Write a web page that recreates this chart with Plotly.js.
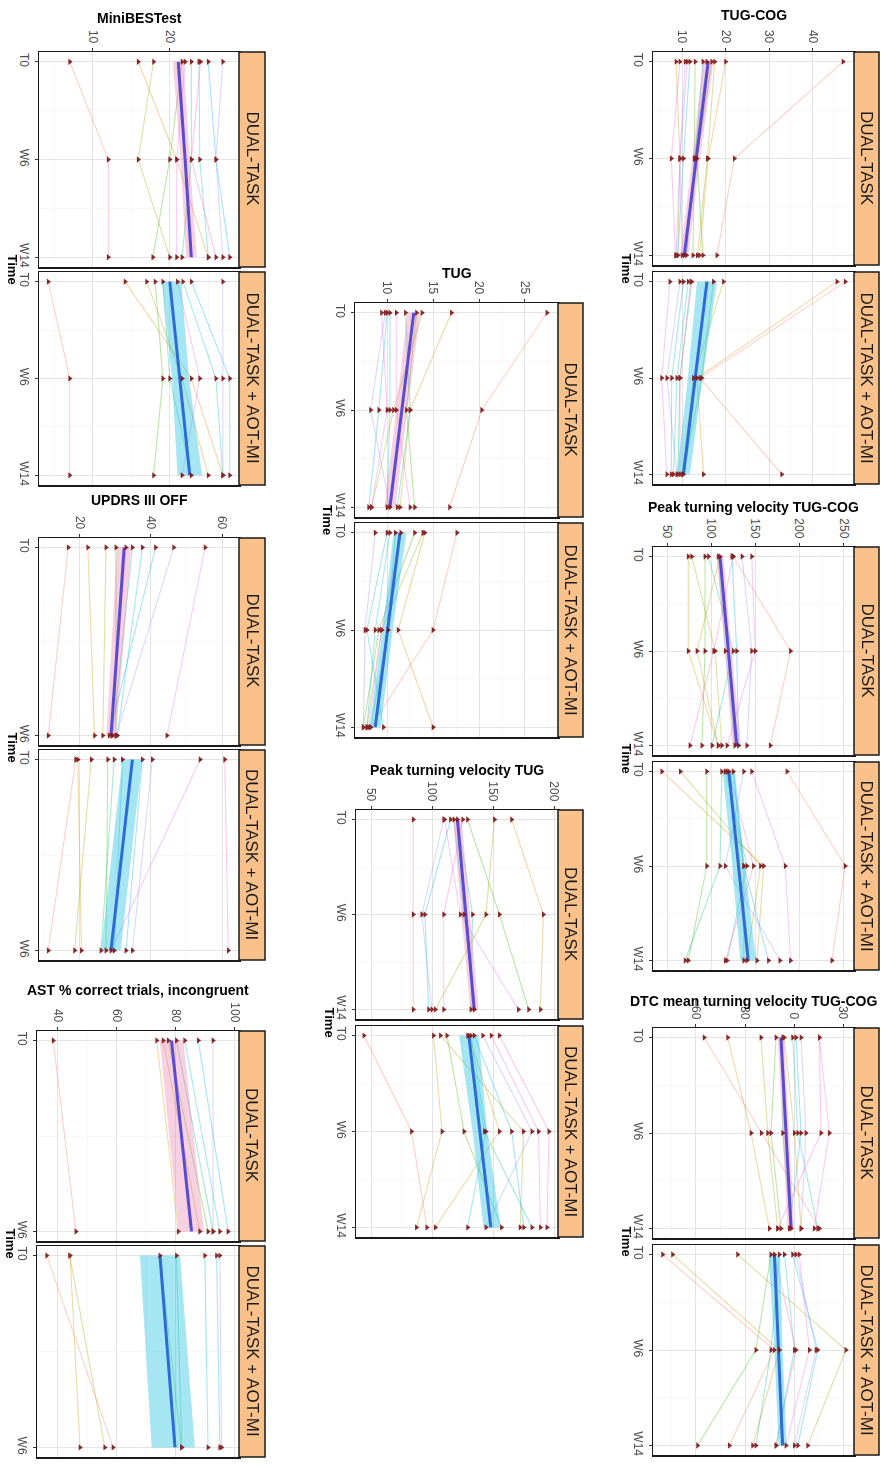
<!DOCTYPE html>
<html><head><meta charset="utf-8">
<script src="https://cdn.plot.ly/plotly-3.0.1.min.js"></script>
<style>html,body{margin:0;padding:0;background:#fff}#chart{width:893px;height:1467px}</style>
</head><body><div id="chart"></div>
<script>
// ---------------- DATA ----------------
const times3 = ['T0', 'W6', 'W14'];
const times2 = ['T0', 'W6'];

// TUG-COG
const tugcogDT = [[47,22,18],[20,16,14],[17.5,15.8,13.5],[16.8,13.4,14.8],[15.7,12.8,11],[14.8,13,10.5],[11.8,10.3,9],[11.2,9.5,8.6],[10.7,9.5,10],[9.5,7.5,8.5],[8.6,9.5,9],[13,12.8,12.5]];
const tugcogDTfit = [16, 13.2, 10.5];
const tugcogDTlo = [14.8, 12.3, 9.6];
const tugcogDThi = [17.2, 14.1, 11.4];
const tugcogAOT = [[47.5,14.1,32.9],[45.6,13.4,14.9],[19.5,12.6,10],[17.2,14.5,10.3],[12.2,9.5,9],[11.4,8.8,8],[10.3,7.6,7.5],[9.5,6.5,8.8],[7.2,5.3,6.5],[12,9.5,9.5]];
const tugcogAOTfit = [15.7, 13.0, 10.3];
const tugcogAOTlo = [13.4, 11.3, 8.8];
const tugcogAOThi = [18, 14.7, 11.8];

// Peak turning velocity TUG-COG
const peakcogDT = [[125,190,167],[74,74,108],[78,104.5,112],[93,93,89.5],[97,125,101],[108,116,127],[123.5,129,131],[135,146,140.5],[146,150,118],[125,103,76],[110,84,108]];
const peakcogDTfit = [110, 119.5, 129];
const peakcogDTlo = [106, 116, 124];
const peakcogDThi = [114, 123, 134];
const peakcogAOT = [[186,252,237],[44,159.5,152],[65,156,140.5],[95,95,74],[112,110,70.5],[116,140.5,118],[125,137,165],[137,116,178],[146,184,190],[120,148,116],[118,137,137]];
const peakcogAOTfit = [120, 131, 142];
const peakcogAOTlo = [113, 124, 133];
const peakcogAOThi = [127, 138, 151];

// DTC mean turning velocity TUG-COG
const dtcDT = [[-55,-20,15.5],[-40.6,-26.3,-15.1],[-20.2,-16.1,-10],[-11,-14.1,-8],[-6.9,-6.9,-1.8],[-0.8,2.3,14.5],[1.2,4.3,-2.9],[4.3,7.3,4.3],[15.5,21.6,12.4],[15.5,16.5,-10],[-6,0.2,4.3]];
const dtcDTfit = [-8, -4.9, -1.8];
const dtcDTlo = [-10, -7, -4];
const dtcDThi = [-6, -3, 0];
const dtcAOT = [[-80.4,-12.1,-39.6],[-74.3,-9,-25.3],[-34.5,31.8,8.4],[-14.1,-23.3,-59],[-9,-14.1,-23.3],[-5.9,0.2,-11],[-0.8,14.5,2.3],[1.2,13.5,0.2],[3.2,9.4,-4.9],[-12,1.2,-11]];
const dtcAOTfit = [-12, -9.5, -7];
const dtcAOTlo = [-15.5, -12, -9.5];
const dtcAOThi = [-8.5, -7, -4.5];

// TUG
const tugDT = [[27.4,20.3,16.8],[17,12.5,11.4],[13.8,10.7,8.3],[13.2,12.1,13],[12,12.5,11.1],[10.3,10.3,10],[10,9.1,8],[9.8,8.2,10.3],[9.4,10,8.3],[11,11,12.5]];
const tugDTfit = [12.9, 11.6, 10.3];
const tugDTlo = [12.2, 11.0, 9.7];
const tugDThi = [13.6, 12.2, 10.9];
const tugAOT = [[17.6,15,8.2],[14.1,11.2,15],[13.9,9.4,7.8],[13,9.1,7.4],[10.9,10.1,8.2],[10.3,8.7,7.8],[10,7.8,9.6],[8.7,7.6,7.4],[11.5,9.4,8]];
const tugAOTfit = [11.4, 10.05, 8.7];
const tugAOTlo = [10.7, 9.5, 8.1];
const tugAOThi = [12.1, 10.6, 9.3];

// Peak turning velocity TUG
const peaktugDT = [[84.4,84.4,84.4],[165,191,188.6],[151,144,102.5],[128.9,155,179],[120.6,133,131.7],[117.8,126,134.4],[115,94,97],[109.4,91.4,99.7],[110,123,170.6],[125,109.4,109.4]];
const peaktugDTfit = [120.6, 127.5, 134.4];
const peaktugDTlo = [117, 124, 131];
const peaktugDThi = [124, 131, 138];
const peaktugAOT = [[44,83,95.6],[101,108,87],[106.7,174.7,172],[112,126,156.7],[129,142.8,181.7],[131.7,144,129],[134.4,165,175],[141.4,181.7,144],[148.3,187,188.6],[155,195.6,194],[130,155,102.5]];
const peaktugAOTfit = [130, 139, 148];
const peaktugAOTlo = [122, 133, 142];
const peaktugAOThi = [138, 145, 156];

// MiniBESTest
const minibestDT = [[7,12,12],[15.9,20.9,25],[17.9,15.9,20],[21.6,20,17.8],[22.8,22.8,21.6],[23.8,23.9,25],[25,26,27.8],[26.9,26,26.9],[22,20.9,20.9],[24,22.8,26]];
const minibestDTfit = [21.1, 22, 22.8];
const minibestDTlo = [20.4, 21.4, 22.1];
const minibestDThi = [21.8, 22.6, 23.5];
const minibestAOT = [[4.2,7,7],[14.2,22.8,26.9],[17,21.6,25],[18.1,19.1,17.9],[19.1,20,22.8],[21.7,26,26.9],[22.8,27.8,27.8],[26.9,26.9,26.9],[21,23.9,21.6]];
const minibestAOTfit = [20, 21.3, 22.6];
const minibestAOTlo = [19, 20.3, 21];
const minibestAOThi = [21.5, 22.5, 24.2];

// UPDRS III OFF
const updrsDT = [[16.8,11.2],[22.3,24.2],[27.4,26.5],[30.2,30.2],[34.8,29.3],[37.6,30.6],[41.3,28.3],[46.4,30.2],[55.2,44.5],[33,29]];
const updrsDTfit = [32.5, 28.8];
const updrsDTlo = [30.5, 27.5];
const updrsDThi = [34.5, 30.2];
const updrsAOT = [[18.9,11.2],[19.5,20.5],[23.3,18.6],[27.9,27.4],[29.7,26],[32,29.7],[37.6,33],[40.4,34.8],[53.8,28.8],[60.7,61.7]];
const updrsAOTfit = [34.8, 28.8];
const updrsAOTlo = [32, 26];
const updrsAOThi = [37.5, 31.5];

// AST % correct trials, incongruent
const astDT = [[38.4,46.1],[73.5,80.8],[75.7,88.1],[77.4,90.9],[80.2,92.6],[83,94.9],[87.6,97.7],[92.6,92.6]];
const astDTfit = [78.5, 85.3];
const astDTlo = [74.5, 81];
const astDThi = [82.5, 89.5];
const astAOT = [[36.2,58.7],[44.1,47.5],[44,55.9],[74.6,81.9],[80.2,82],[89.8,90.9],[93.8,94.9],[94.9,95.5]];
const astAOTfit = [74.6, 79.7];
const astAOTlo = [67.8, 71.8];
const astAOThi = [81.4, 86.4];

const facetNames = ['DUAL-TASK', 'DUAL-TASK + AOT-MI'];

// ---------------- LAYOUT CONFIG ----------------
const W = 893, H = 1467;
const panels = [
  {title:'TUG-COG', bx:[653,854], sx:879, f1:[52,265], f2:[272,484], ty:15, range:[3.3,49.5], dtick:10, times:times3,
   dt:{s:tugcogDT,fit:tugcogDTfit,lo:tugcogDTlo,hi:tugcogDThi}, aot:{s:tugcogAOT,fit:tugcogAOTfit,lo:tugcogAOTlo,hi:tugcogAOThi}},
  {title:'Peak turning velocity TUG-COG', bx:[653,854], sx:879, f1:[547,755], f2:[762,970], ty:507, range:[34,262], dtick:50, times:times3,
   dt:{s:peakcogDT,fit:peakcogDTfit,lo:peakcogDTlo,hi:peakcogDThi}, aot:{s:peakcogAOT,fit:peakcogAOTfit,lo:peakcogAOTlo,hi:peakcogAOThi}},
  {title:'DTC mean turning velocity TUG-COG', bx:[653,854], sx:879, f1:[1028,1238], f2:[1245,1455], ty:1001, range:[-86.3,36.7], dtick:30, times:times3,
   dt:{s:dtcDT,fit:dtcDTfit,lo:dtcDTlo,hi:dtcDThi}, aot:{s:dtcAOT,fit:dtcAOTfit,lo:dtcAOTlo,hi:dtcAOThi}},
  {title:'TUG', bx:[355,558], sx:583, f1:[303,517], f2:[523,737], ty:273, range:[6.5,28.6], dtick:5, times:times3,
   dt:{s:tugDT,fit:tugDTfit,lo:tugDTlo,hi:tugDThi}, aot:{s:tugAOT,fit:tugAOTfit,lo:tugAOTlo,hi:tugAOThi}},
  {title:'Peak turning velocity TUG', bx:[356,558], sx:583, f1:[810,1019], f2:[1026,1237], ty:770, range:[37.5,203], dtick:50, times:times3,
   dt:{s:peaktugDT,fit:peaktugDTfit,lo:peaktugDTlo,hi:peaktugDThi}, aot:{s:peaktugAOT,fit:peaktugAOTfit,lo:peaktugAOTlo,hi:peaktugAOThi}},
  {title:'MiniBESTest', bx:[39,239], sx:265, f1:[52,267], f2:[272,485], ty:18, range:[3,29], dtick:10, times:times3,
   dt:{s:minibestDT,fit:minibestDTfit,lo:minibestDTlo,hi:minibestDThi}, aot:{s:minibestAOT,fit:minibestAOTfit,lo:minibestAOTlo,hi:minibestAOThi}},
  {title:'UPDRS III OFF', bx:[39,239], sx:265, f1:[538,745], f2:[750,960], ty:500, range:[8.6,64.7], dtick:20, times:times2,
   dt:{s:updrsDT,fit:updrsDTfit,lo:updrsDTlo,hi:updrsDThi}, aot:{s:updrsAOT,fit:updrsAOTfit,lo:updrsAOTlo,hi:updrsAOThi}},
  {title:'AST % correct trials, incongruent', bx:[37,239], sx:265, f1:[1031,1241], f2:[1246,1457], ty:990, range:[32.9,101.4], dtick:20, times:times2,
   dt:{s:astDT,fit:astDTfit,lo:astDTlo,hi:astDThi}, aot:{s:astAOT,fit:astAOTfit,lo:astAOTlo,hi:astAOThi}}
];

const palette = ['#F8766D','#D89000','#A3A500','#39B600','#00BF7D','#00BFC4','#00B0F6','#9590FF','#E76BF3','#FF62BC','#C49A00','#53B400','#06A4FF'];
const FONT = 'Liberation Sans, Arial, Helvetica, sans-serif';

const px = v => v / W;
const py = v => 1 - v / H;

const traces = [];
const layout = {
  width: W, height: H, margin: {l:0, r:0, t:0, b:0}, showlegend: false,
  paper_bgcolor: '#ffffff', plot_bgcolor: '#ffffff',
  font: {family: FONT, color: '#1a1a1a'},
  shapes: [], annotations: []
};

let k = 0;
panels.forEach(p => {
  const n = p.times.length;
  const tv = p.times.map((_, i) => i);
  const pad = 0.05 * (n - 1);
  [p.dt, p.aot].forEach((fd, fi) => {
    k++;
    const xa = k === 1 ? 'x' : 'x' + k;
    const ya = k === 1 ? 'y' : 'y' + k;
    const fy = fi === 0 ? p.f1 : p.f2;
    fd.s.forEach((row, j) => {
      traces.push({type:'scatter', mode:'lines', x:row, y:tv, xaxis:xa, yaxis:ya,
        line:{color:palette[j % palette.length], width:1.1}, opacity:0.35, hoverinfo:'skip'});
    });
    traces.push({type:'scatter', mode:'lines', x:fd.hi.concat(fd.lo.slice().reverse()),
      y:tv.concat(tv.slice().reverse()), xaxis:xa, yaxis:ya, fill:'toself',
      fillcolor: fi === 0 ? 'rgba(232,120,170,0.35)' : 'rgba(40,195,225,0.42)',
      line:{width:0}, hoverinfo:'skip'});
    traces.push({type:'scatter', mode:'lines', x:fd.fit, y:tv, xaxis:xa, yaxis:ya,
      line:{color: fi === 0 ? '#5B4BCF' : '#2C6CD4', width:3}, hoverinfo:'skip'});
    traces.push({type:'scatter', mode:'markers', x:fd.s.flatMap(r => r), y:fd.s.flatMap(() => tv),
      xaxis:xa, yaxis:ya, marker:{symbol:'triangle-right', size:5.5, color:'#7E1212'}, opacity:0.9, hoverinfo:'skip'});

    const xkey = k === 1 ? 'xaxis' : 'xaxis' + k;
    const ykey = k === 1 ? 'yaxis' : 'yaxis' + k;
    layout[xkey] = {
      domain:[px(p.bx[0]), px(p.bx[1])], anchor: ya, side:'top', range:p.range,
      dtick:p.dtick, tick0:0, tickangle:90, showticklabels: fi === 0,
      ticks: fi === 0 ? 'outside' : '', ticklen:3, tickcolor:'#333333', tickwidth:1,
      tickfont:{size:12, color:'#4d4d4d', family:FONT},
      showgrid:true, gridcolor:'#e4e4e4', gridwidth:1,
      minor:{dtick:p.dtick / 2, tick0:0, showgrid:true, gridcolor:'#f3f3f3', gridwidth:0.6},
      showline:true, mirror:true, linecolor:'#1a1a1a', linewidth:1.5, zeroline:false, fixedrange:true
    };
    layout[ykey] = {
      domain:[py(fy[1]), py(fy[0])], anchor: xa, range:[n - 1 + pad, -pad],
      tickmode:'array', tickvals:tv, ticktext:p.times, tickangle:90,
      ticks:'outside', ticklen:3, tickcolor:'#333333', tickwidth:1,
      tickfont:{size:12, color:'#4d4d4d', family:FONT},
      showgrid:true, gridcolor:'#e4e4e4', gridwidth:1,
      minor:{tickmode:'array', tickvals: tv.slice(1).map(v => v - 0.5), showgrid:true, gridcolor:'#f3f3f3', gridwidth:0.6},
      showline:true, mirror:true, linecolor:'#1a1a1a', linewidth:1.5, zeroline:false, fixedrange:true
    };
    layout.shapes.push({type:'rect', xref:'paper', yref:'paper', x0:px(p.bx[1]), x1:px(p.sx),
      y0:py(fy[1]), y1:py(fy[0]), fillcolor:'#FAC28A', line:{color:'#1a1a1a', width:1.5}, layer:'above'});
    layout.annotations.push({xref:'paper', yref:'paper', x:px((p.bx[1] + p.sx) / 2), y:py((fy[0] + fy[1]) / 2),
      text:facetNames[fi], textangle:90, showarrow:false, xanchor:'center', yanchor:'middle',
      font:{size:17, color:'#1a1a1a', family:FONT}});
  });
  layout.annotations.push({xref:'paper', yref:'paper', x:px((p.bx[0] + p.bx[1]) / 2), y:py(p.ty),
    text:'<b>' + p.title + '</b>', showarrow:false, xanchor:'center', yanchor:'middle',
    font:{size:14, color:'#000000', family:FONT}});
  layout.annotations.push({xref:'paper', yref:'paper', x:px(p.bx[0] - 27), y:py((p.f1[1] + p.f2[0]) / 2),
    text:'<b>Time</b>', textangle:90, showarrow:false, xanchor:'center', yanchor:'middle',
    font:{size:13, color:'#000000', family:FONT}});
});

Plotly.newPlot('chart', traces, layout, {staticPlot:true, displayModeBar:false});
</script>
</body></html>
